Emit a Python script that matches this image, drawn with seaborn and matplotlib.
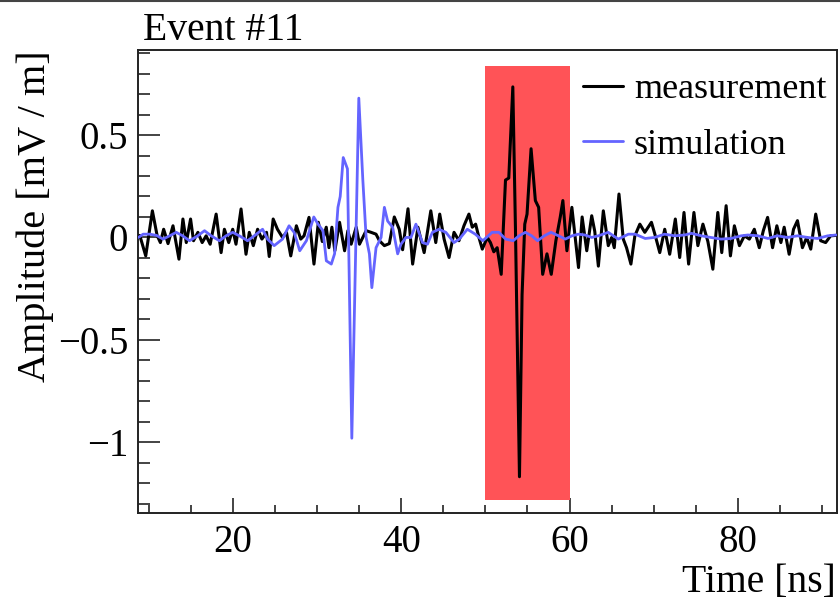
import matplotlib
matplotlib.use("Agg")
import matplotlib.pyplot as plt
from matplotlib.ticker import MultipleLocator
from matplotlib.lines import Line2D
import seaborn as sns
import pandas as pd

# ---------------- data ----------------
meas_t = [8.75, 8.91, 9.62, 10.41, 10.97, 11.36, 11.75, 12.27, 12.86, 13.57, 14.04, 14.44,
          14.95, 15.3, 15.82, 16.33, 16.8, 17.28, 17.99, 18.58, 18.97, 19.49, 19.96, 20.35,
          20.95, 21.54, 21.93, 22.41, 22.92, 23.43, 23.98, 24.3, 24.77, 25.28, 25.88, 26.35,
          26.86, 27.53, 28.05, 28.44, 29.03, 29.62, 30.14, 30.61, 31.08, 31.4, 31.75, 32.1,
          32.66, 33.26, 33.65, 34.04, 34.64, 35.03, 35.43, 35.82, 36.41, 37.0, 37.4, 37.99,
          38.58, 39.17, 39.76, 40.16, 40.8, 41.35, 41.98, 42.72, 43.51, 44.1, 44.57, 45.09,
          45.68, 46.27, 46.86, 47.45, 48.04, 48.44, 48.84, 49.23, 49.63, 50.22, 50.6, 51.0,
          51.4, 51.88, 52.39, 52.78, 53.26, 53.57, 54.05, 54.36, 54.68, 54.95, 55.43, 55.94,
          56.33, 56.81, 57.32, 57.83, 58.38, 58.9, 59.21, 59.69, 60.28, 61.07, 61.5, 62.05,
          62.64, 63.0, 63.43, 64.02, 64.61, 65.01, 65.32, 65.88, 66.39, 66.78, 67.3, 67.77,
          68.36, 68.95, 69.74, 70.2, 70.73, 71.32, 71.91, 72.58, 73.1, 73.61, 74.16, 74.79,
          75.26, 75.86, 76.45, 77.04, 77.63, 78.1, 78.62, 79.13, 79.6, 80.2, 80.79, 81.38,
          81.97, 82.56, 83.04, 83.55, 84.14, 84.65, 85.13, 85.52, 86.11, 86.63, 87.1, 87.69,
          88.2, 88.68, 89.27, 89.86, 90.45, 91.04, 91.7]
meas_v = [0.0, 0.01, -0.09, 0.13, 0.01, -0.025, 0.04, -0.03, 0.057, -0.106, 0.09, -0.025,
          0.09, -0.016, 0.025, -0.025, 0.008, -0.033, 0.114, -0.074, 0.04, -0.025, 0.04, -0.033,
          0.139, -0.082, 0.025, -0.04, 0.04, -0.008, 0.025, -0.093, 0.09, 0.04, 0.0, 0.025,
          -0.09, 0.057, -0.008, 0.008, 0.098, -0.13, 0.074, -0.02, 0.05, -0.05, 0.05, -0.065,
          0.074, -0.065, 0.033, -0.033, 0.05, -0.033, 0.0, 0.033, 0.025, 0.016, -0.016, -0.04,
          -0.03, 0.1, 0.04, -0.06, 0.14, -0.13, 0.05, -0.074, 0.13, -0.025, 0.114, -0.008,
          -0.098, 0.025, -0.016, 0.057, 0.114, 0.05, 0.065, 0.0, -0.057, 0.0, -0.025, -0.07,
          -0.05, -0.18, 0.28, 0.29, 0.735, 0.05, -1.168, -0.28, 0.065, 0.114, 0.433, 0.18,
          0.147, -0.18, -0.08, -0.18, -0.016, 0.1, 0.18, -0.065, 0.147, -0.147, 0.1, -0.065,
          0.106, 0.03, -0.14, 0.13, -0.04, 0.0, -0.05, 0.212, -0.008, -0.05, -0.13, 0.008,
          0.065, 0.025, 0.074, 0.008, -0.074, 0.04, -0.082, 0.09, -0.098, 0.122, -0.13, 0.122,
          -0.04, 0.065, -0.02, -0.155, 0.122, -0.074, 0.155, -0.09, 0.057, -0.04, 0.008, -0.008,
          0.04, -0.05, 0.033, 0.098, -0.05, 0.057, -0.025, 0.05, -0.082, 0.04, 0.082, -0.05,
          0.0, -0.057, 0.114, -0.016, -0.025, 0.008, 0.01]

sim_t = [8.75, 9.31, 10.1, 10.9, 11.68, 12.46, 13.25, 14.0, 14.83, 15.8, 16.61, 17.4,
         18.38, 19.17, 19.96, 20.75, 21.73, 22.52, 23.51, 24.1, 24.89, 25.88, 26.66, 27.26,
         27.93, 28.72, 29.6, 30.1, 30.69, 31.09, 31.68, 32.07, 32.47, 32.74, 33.1, 33.6,
         34.12, 34.95, 35.43, 35.82, 36.21, 36.5, 37.0, 37.6, 37.99, 38.38, 38.97, 39.57,
         39.96, 40.55, 41.15, 41.74, 42.52, 43.11, 43.7, 44.49, 45.3, 46.27, 46.9, 47.85,
         48.8, 49.7, 50.8, 51.6, 52.4, 53.3, 54.0, 54.75, 55.5, 56.2, 57.0, 57.8,
         58.7, 59.5, 60.3, 61.06, 61.85, 62.64, 63.43, 64.6, 65.8, 67.0, 67.8, 69.0,
         70.1, 71.3, 72.5, 73.7, 74.5, 75.7, 76.8, 78.0, 79.2, 80.4, 81.2, 82.4,
         83.6, 84.7, 85.9, 87.1, 88.3, 89.5, 90.7, 91.7]
sim_v = [0.0, 0.016, 0.016, 0.01, -0.008, 0.008, 0.025, 0.008, -0.016, 0.008, 0.033, 0.008,
         -0.016, 0.008, 0.025, 0.008, -0.016, 0.008, 0.04, -0.008, -0.04, -0.008, 0.057, 0.025,
         -0.065, -0.016, 0.1, 0.065, 0.033, -0.114, -0.13, -0.08, 0.147, 0.2, 0.39, 0.335,
         -0.98, 0.68, 0.28, 0.0, -0.08, -0.245, -0.05, 0.0, 0.147, 0.08, 0.05, -0.08,
         -0.033, 0.0, 0.0, 0.065, -0.025, -0.033, 0.025, 0.04, 0.025, -0.025, -0.008, 0.04,
         0.016, -0.016, 0.025, 0.025, -0.008, -0.016, 0.008, 0.025, 0.008, -0.016, 0.008, 0.025,
         0.008, -0.008, 0.008, 0.016, 0.012, 0.0, 0.008, 0.025, -0.008, 0.016, 0.016, -0.005,
         0.0, 0.016, 0.008, 0.012, 0.02, 0.008, 0.0, -0.008, -0.005, 0.008, 0.012, 0.008,
         -0.005, 0.008, 0.0, 0.008, 0.0, -0.005, 0.008, 0.012]

series_names = ["measurement", "simulation"]
series_colors = ["#000000", "#6464ff"]

# signal window (red box)
window_t = [50.0, 60.0]
window_v = [-1.28, 0.835]

title_text = "Event #11"
x_label = "Time [ns]"
y_label = "Amplitude [mV / m]"
x_range = (8.7, 91.8)
y_range = (-1.345, 0.915)

# ---------------- plotting ----------------
sns.set_style("white")
plt.rcParams["font.family"] = ["Liberation Serif", "DejaVu Serif"]
plt.rcParams["text.color"] = "black"
plt.rcParams["xtick.color"] = "black"
plt.rcParams["ytick.color"] = "black"
plt.rcParams["xtick.labelcolor"] = "black"
plt.rcParams["ytick.labelcolor"] = "black"

df = pd.concat([
    pd.DataFrame({"t": meas_t, "v": meas_v, "series": series_names[0]}),
    pd.DataFrame({"t": sim_t, "v": sim_v, "series": series_names[1]}),
], ignore_index=True)

fig = plt.figure(figsize=(8.4, 6), dpi=100)
ax = fig.add_axes([138 / 840, 87 / 600, 699 / 840, 463 / 600])

ax.fill_between(window_t, [window_v[0]] * 2, [window_v[1]] * 2,
                color="#ff5357", linewidth=0, zorder=1)

line_widths = [2.2, 2.0]
sns.lineplot(data=df, x="t", y="v", hue="series", hue_order=series_names,
             palette=dict(zip(series_names, series_colors)), estimator=None,
             sort=False, ax=ax, zorder=3)
for line, lw in zip(ax.lines, line_widths):
    line.set_linewidth(lw)
    line.set_solid_joinstyle("round")

ax.set_xlim(*x_range)
ax.set_ylim(*y_range)
ax.set_xlabel("")
ax.set_ylabel("")

ax.xaxis.set_major_locator(MultipleLocator(20))
ax.xaxis.set_minor_locator(MultipleLocator(5))
ax.yaxis.set_major_locator(MultipleLocator(0.5))
ax.yaxis.set_minor_locator(MultipleLocator(0.1))
ax.tick_params(axis="x", which="major", direction="in", length=11, width=1.1,
               labelsize=28, pad=8, bottom=True, top=False, color="#111111")
ax.tick_params(axis="x", which="minor", direction="in", length=5.5, width=1.1,
               bottom=True, top=False, color="#111111")
ax.tick_params(axis="y", which="major", direction="in", length=16, width=1.1,
               labelsize=28, pad=7, left=True, right=False, color="#111111")
ax.tick_params(axis="y", which="minor", direction="in", length=8.5, width=1.1,
               left=True, right=False, color="#111111")
ax.yaxis.set_major_formatter(plt.FuncFormatter(
    lambda v, p: "0" if abs(v) < 1e-9 else (("\u2212" if v < 0 else "") + ("%g" % abs(v)))))

for s in ax.spines.values():
    s.set_color("#222222")
    s.set_linewidth(1.4)

leg = ax.legend(loc="upper left", bbox_to_anchor=(0.637, 0.95), frameon=False,
                fontsize=26, handlelength=1.1, handletextpad=0.3,
                labelspacing=0.62, borderaxespad=0, borderpad=0)
for h, lw in zip(leg.get_lines(), line_widths):
    h.set_linewidth(lw)
for t in leg.get_texts():
    t.set_color("black")

fig.text(143 / 840, 1 - 40 / 600, title_text, fontsize=28.5, ha="left", va="baseline")
fig.text(836 / 840, 1 - 592 / 600, x_label, fontsize=28.5, ha="right", va="baseline")
fig.text(35 / 840, 1 - 50 / 600, y_label, fontsize=29, rotation=90, ha="center", va="top")

fig.add_artist(Line2D([0, 1], [0.998, 0.998], color="#444444", linewidth=1.5))

fig.savefig("out.png", dpi=100, facecolor="white")
